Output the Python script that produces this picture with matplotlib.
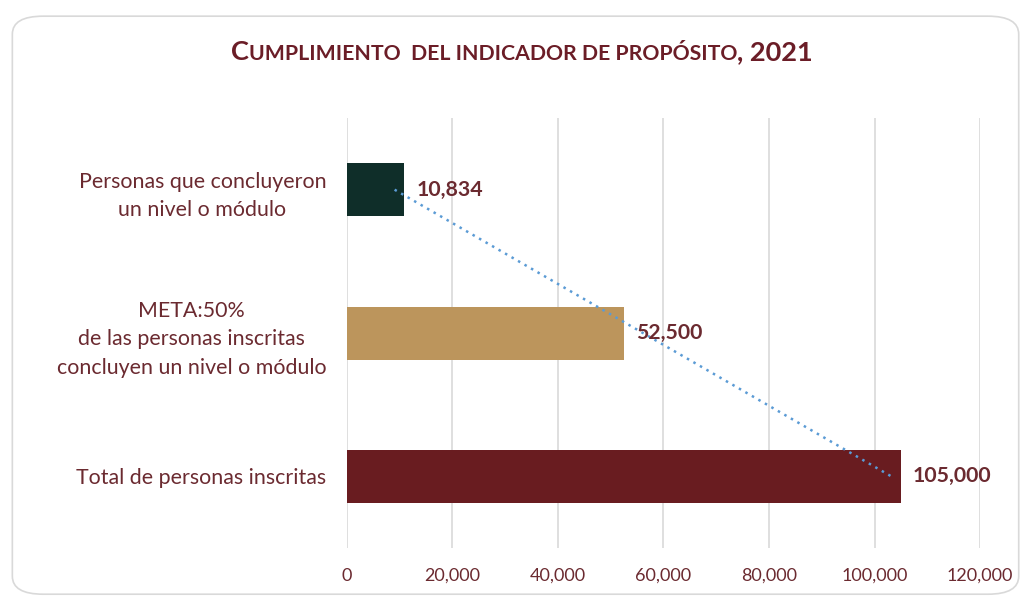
import numpy as np
import matplotlib.pyplot as plt
from matplotlib.patches import FancyBboxPatch

categorias = [
    "Personas que concluyeron\nun nivel o módulo",
    "META:50%\nde las personas inscritas\nconcluyen un nivel o módulo",
    "Total de personas inscritas",
]
valores = [10834, 52500, 105000]
colores = ["#0f2e29", "#bc955c", "#691c20"]
ticks = [0, 20000, 40000, 60000, 80000, 100000, 120000]

granate = "#6b2a30"
plt.rcParams['font.family'] = ['Lato', 'DejaVu Sans']

fig = plt.figure(figsize=(10.29, 5.99), dpi=100)
marco = FancyBboxPatch((0.012, 0.008), 0.978, 0.965,
                       boxstyle="round,pad=0,rounding_size=0.03",
                       transform=fig.transFigure, facecolor="white",
                       edgecolor="#d9d9d9", linewidth=1.2, zorder=-1)
fig.patches.append(marco)

ax = fig.add_axes([0.3372, 0.085, 0.6152, 0.718])
ax.set_facecolor("none")
y = np.arange(len(valores))
ax.barh(y, valores, height=0.37, color=colores, zorder=2)

# línea de tendencia lineal sobre las categorías
m, b = np.polyfit(y + 1, valores, 1)
ax.plot(m * (y + 1) + b, y, linestyle=(0, (1, 2)), color="#5b9bd5",
        linewidth=1.8, zorder=3)

for yi, v in zip(y, valores):
    ax.text(v + 2300, yi, f"{v:,}", va="center", ha="left", fontsize=15.3,
            fontweight="bold", color=granate, zorder=4)

ax.set_xlim(0, 120000)
ax.set_ylim(2.5, -0.5)
ax.set_xticks(ticks)
ax.set_xticklabels([f"{t:,}" for t in ticks])
ax.set_yticks(y)
ax.set_yticklabels(categorias, multialignment="center", linespacing=1.55)
ax.tick_params(axis="x", length=0, pad=14, labelsize=13, labelcolor=granate)
ax.tick_params(axis="y", length=0, pad=15, labelsize=15.4, labelcolor=granate)
ax.grid(axis="x", color="#d9d9d9", linewidth=1.2, zorder=0)
ax.set_axisbelow(True)
for s in ax.spines.values():
    s.set_visible(False)

# título en versalitas
partes = [("C", 19.5), ("UMPLIMIENTO  ", 15.3), ("DEL INDICADOR DE PROPÓSITO", 15.3),
          (", 2021", 19.5)]
fig.canvas.draw()
r = fig.canvas.get_renderer()
textos = []
for t, fs in partes:
    tx = fig.text(0, 0.9, t, fontsize=fs, fontweight="bold", color="#6b1d27",
                  ha="left", va="baseline")
    textos.append(tx)
anchos = [tx.get_window_extent(r).width for tx in textos]
x = (fig.bbox.width * 0.507 - sum(anchos) / 2)
for tx, w in zip(textos, anchos):
    tx.set_x(x / fig.bbox.width)
    x += w

fig.savefig("out.png", dpi=100)
